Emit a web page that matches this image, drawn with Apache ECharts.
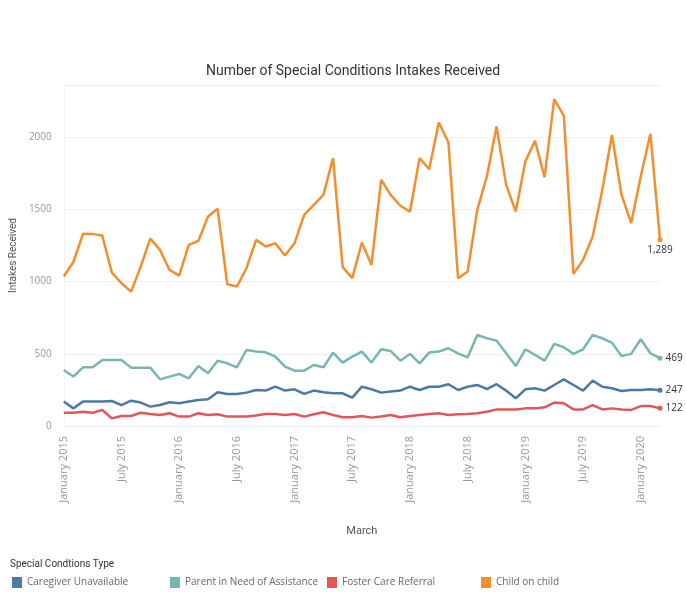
<!DOCTYPE html>
<html>
<head>
<meta charset="utf-8">
<script src="https://cdn.jsdelivr.net/npm/echarts@6/dist/echarts.min.js"></script>
<style>
html,body{margin:0;padding:0;background:#fff;}
#chart{width:686px;height:592px;}
</style>
</head>
<body>
<div id="chart"></div>
<script>
const monthNames = ['January','February','March','April','May','June','July','August','September','October','November','December'];
const startYear = 2015;
const monthCount = 63; // January 2015 .. March 2020
const categories = [];
for (let i = 0; i < monthCount; i++) {
  categories.push(monthNames[i % 12] + ' ' + (startYear + Math.floor(i / 12)));
}

const seriesNames = ['Caregiver Unavailable', 'Parent in Need of Assistance', 'Foster Care Referral', 'Child on child'];

const caregiverUnavailable = [169,122,169,169,169,173,145,175,162,134,145,164,157,169,180,185,233,222,222,231,249,245,272,245,254,222,245,233,226,226,196,272,
  254,231,238,245,272,249,272,272,289,249,272,284,256,289,245,192,254,261,245,284,323,284,245,314,272,261,242,249,249,254,247];

const parentNeedAssistance = [388,342,406,406,457,457,457,404,404,404,323,342,360,330,415,365,452,434,406,526,515,510,480,411,383,383,422,406,508,439,480,515,
  439,531,519,452,499,434,508,515,538,503,475,630,607,591,503,415,531,492,452,568,545,499,531,630,607,577,485,499,600,503,469];

const fosterCareReferral = [92,92,99,92,111,53,69,69,92,83,76,88,65,65,88,76,81,65,65,65,72,83,83,76,83,65,81,95,76,60,60,69,
  58,65,76,60,69,76,83,88,76,81,83,88,99,115,115,115,122,122,129,162,157,115,115,145,115,122,115,111,138,138,122];

const childOnChild = [1035,1135,1330,1328,1318,1062,988,930,1103,1297,1219,1080,1041,1253,1281,1450,1503,981,965,1092,1288,1242,1265,1180,1265,1461,1530,1600,1854,1100,1023,1270,1115,
  1704,1600,1524,1484,1854,1778,2100,1962,1023,1069,1496,1727,2073,1669,1484,1830,1974,1722,2262,2147,1053,1150,1311,1634,2015,1600,1404,1727,2022,1289];

const colors = ['#4e79a7', '#76b7b2', '#e15759', '#f28e2b'];
const allData = [caregiverUnavailable, parentNeedAssistance, fosterCareReferral, childOnChild];
const labelPos = ['right', 'right', 'right', 'bottom'];

function fmt(v){ return v.toLocaleString('en-US'); }

const chart = echarts.init(document.getElementById('chart'), null, {renderer: 'canvas'});

const series = allData.map((arr, s) => ({
  name: seriesNames[s],
  type: 'line',
  data: arr.map((v, i) => i === arr.length - 1 ? {
    value: v,
    label: {
      show: true,
      position: labelPos[s],
      distance: 3,
      formatter: fmt(v),
      color: '#333',
      fontSize: 10,
      fontFamily: 'Open Sans'
    }
  } : v),
  showSymbol: true,
  symbol: 'circle',
  symbolSize: (val, p) => p.dataIndex === arr.length - 1 ? 5 : 0,
  lineStyle: { width: 2.5, color: colors[s] },
  itemStyle: { color: colors[s] },
  emphasis: { disabled: true },
  animation: false,
  z: 2 + s
}));

const legendLefts = [7, 165, 322, 476];
const legends = seriesNames.map((n, i) => ({
  data: [n],
  left: legendLefts[i],
  top: 572,
  icon: 'rect',
  itemWidth: 10,
  itemHeight: 11,
  selectedMode: false,
  textStyle: { color: '#666', fontSize: 10, fontFamily: 'Open Sans' }
}));

chart.setOption({
  backgroundColor: '#fff',
  color: colors,
  title: [
    {
      text: 'Number of Special Conditions Intakes Received',
      left: 201,
      top: 59,
      textStyle: { fontSize: 14, fontWeight: 'normal', color: '#333', fontFamily: 'Roboto' }
    },
    {
      text: 'Special Condtions Type',
      left: 5,
      top: 554,
      textStyle: { fontSize: 10, fontWeight: 'normal', color: '#333', fontFamily: 'Roboto' }
    }
  ],
  legend: legends,
  grid: { left: 61, right: 26, top: 85, bottom: 166, containLabel: false },
  xAxis: {
    type: 'category',
    data: categories,
    boundaryGap: false,
    name: 'March',
    nameLocation: 'middle',
    nameGap: 100,
    nameTextStyle: { color: '#555', fontSize: 11, fontFamily: 'Roboto' },
    axisLine: { show: false },
    axisTick: { show: false },
    axisLabel: {
      interval: (idx) => idx % 6 === 0,
      rotate: 90,
      margin: 10,
      color: '#999',
      fontSize: 11,
      fontFamily: 'Open Sans'
    },
    splitLine: { show: false }
  },
  yAxis: {
    type: 'value',
    min: 0,
    max: 2360,
    interval: 500,
    name: 'Intakes Received',
    nameLocation: 'middle',
    nameGap: 36,
    nameTextStyle: { color: '#555', fontSize: 10, fontFamily: 'Roboto' },
    axisLine: { show: true, lineStyle: { color: '#f2f2f2' } },
    axisTick: { show: false },
    axisLabel: { color: '#999', fontSize: 10, fontFamily: 'Open Sans', margin: 12, showMaxLabel: false, formatter: (v) => String(v) },
    splitLine: { show: true, lineStyle: { color: '#efefef', width: 1 } }
  },
  series: series
});
</script>
</body>
</html>
